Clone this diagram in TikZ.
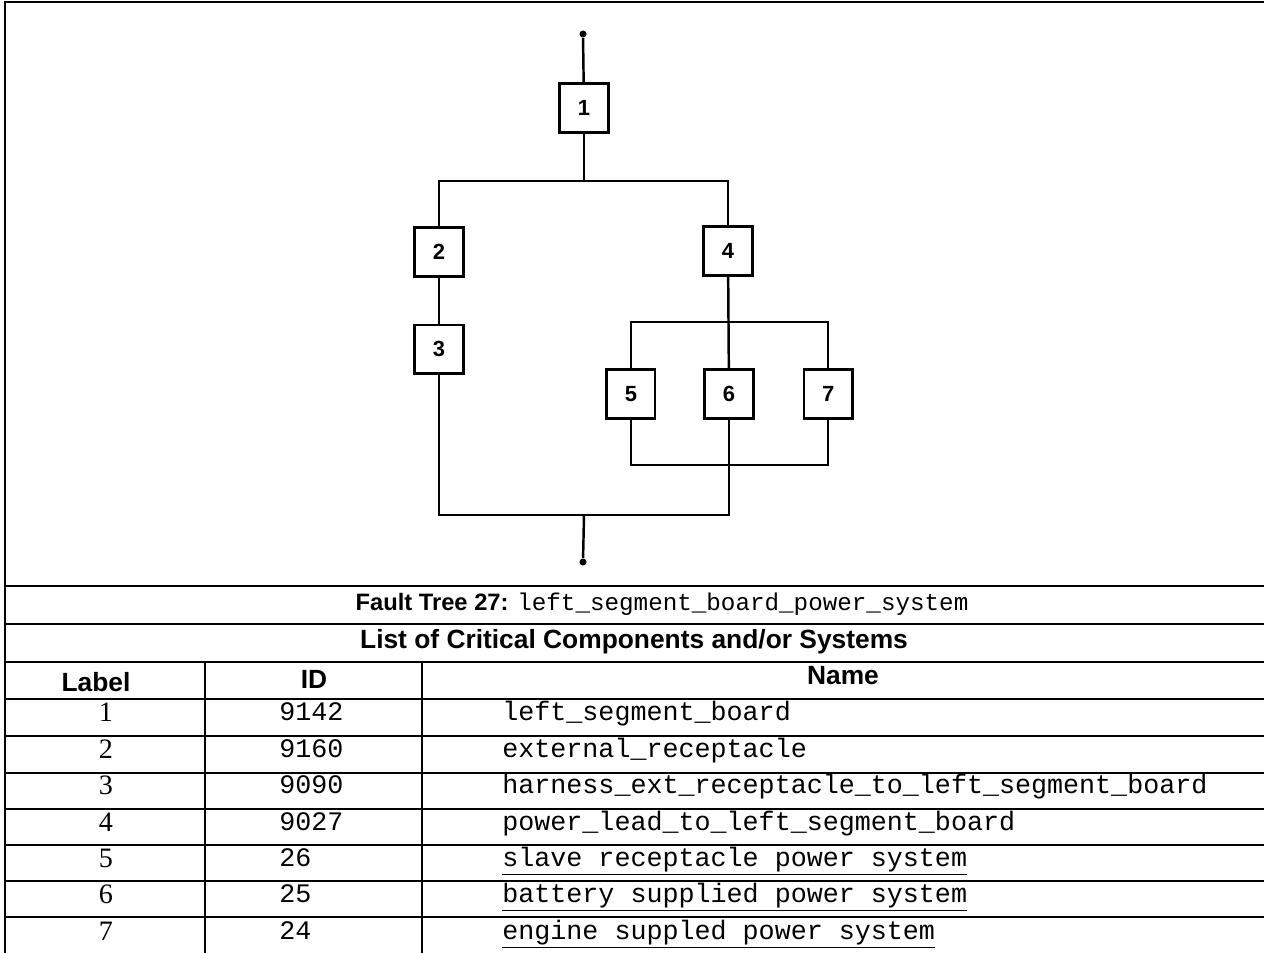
\documentclass[tikz,border=0pt]{standalone}
\usepackage{fontspec}
\setmainfont{Liberation Serif}
\setsansfont{Liberation Sans}
\setmonofont{Liberation Mono}
\usetikzlibrary{positioning}
\tikzset{
  gatebox/.style={draw, line width=1.5pt, minimum width=0.97cm, minimum height=0.97cm,
    inner sep=0pt, font=\sffamily\bfseries\fontsize{12.5}{14}\selectfont},
  wire/.style={line width=1.4pt},
  dot/.style={circle, fill=black, inner sep=0pt, minimum size=0.14cm},
  rule/.style={line width=1.4pt},
  titletext/.style={inner sep=0pt, font=\sffamily\bfseries\fontsize{13.5}{15}\selectfont},
  headtext/.style={inner sep=0pt, font=\sffamily\bfseries\fontsize{15}{17}\selectfont},
  celltext/.style={inner sep=0pt, text height=1.5ex, text depth=.3ex,
    font=\fontsize{16}{18}\selectfont},
  monotext/.style={inner sep=0pt, text height=1.5ex, text depth=.3ex, anchor=west,
    font=\ttfamily\fontsize{15.2}{17}\selectfont}
}
\begin{document}
\begin{tikzpicture}[x=0.02cm, y=-0.02cm]
  \useasboundingbox (0,0) rectangle (1264,953);
  % fault tree
  \node[dot] (top) at (583,34) {};
  \node[gatebox] (b1) at (584,108) {1};
  \node[gatebox] (b2) at (439,252) {2};
  \node[gatebox, below=0.92cm of b2] (b3) {3};
  \node[gatebox] (b4) at (728,251) {4};
  \node[gatebox] (b6) at (729,394) {6};
  \node[gatebox, left=0.94cm of b6] (b5) {5};
  \node[gatebox, right=0.96cm of b6] (b7) {7};
  \node[dot] (bottom) at (583,562) {};
  \coordinate (split) at (584,181);
  \coordinate (join) at (584,515);
  \coordinate (split4) at (729,322);
  \coordinate (join4) at (729,465);

  \draw[wire] (top) -- (b1);
  \draw[wire] (b1) -- (split);
  \draw[wire] (b2.north) |- (split) -| (b4.north);
  \draw[wire] (b2) -- (b3);
  \draw[wire] (b4) -- (b6);
  \draw[wire] (b5.north) |- (split4) -| (b7.north);
  \draw[wire] (b5.south) |- (join4) -| (b7.south);
  \draw[wire] (b3.south) |- (join) -| (b6.south);
  \draw[wire] (join) -- (bottom);

  % frame and table
  \draw[rule] (5,953) -- (5,2) -- (1264,2);
  \foreach \y in {586,624,662,699,736,773,809,845,881,917}
    \draw[rule] (5,\y) -- (1264,\y);
  \draw[rule] (205,662) -- (205,953);
  \draw[rule] (422,662) -- (422,953);

  \node[titletext] (title) at (662,604)
    {Fault Tree 27: {\mdseries\ttfamily\fontsize{13.8}{16}\selectfont left\_segment\_board\_power\_system}};
  \node[headtext] (list) at (634,642) {List of Critical Components and/or Systems};
  \node[headtext] (hlabel) at (96,682) {Label};
  \node[headtext] (hid) at (314,679) {ID};
  \node[headtext] (hname) at (843,676) {Name};

  \foreach \lab/\id/\nm [count=\i] in {
      1/9142/left\_segment\_board,
      2/9160/external\_receptacle,
      3/9090/harness\_ext\_receptacle\_to\_left\_segment\_board,
      4/9027/power\_lead\_to\_left\_segment\_board,
      5/26/\underline{slave receptacle power system},
      6/25/\underline{battery supplied power system},
      7/24/\underline{engine suppled power system}} {
    \node[celltext] (lab\i) at (106,{699+36.4*(\i-1)+18}) {\lab};
    \node[monotext] (id\i) at (279,{699+36.4*(\i-1)+17}) {\id};
    \node[monotext] (nm\i) at (502,{699+36.4*(\i-1)+17}) {\nm};
  }
\end{tikzpicture}
\end{document}
